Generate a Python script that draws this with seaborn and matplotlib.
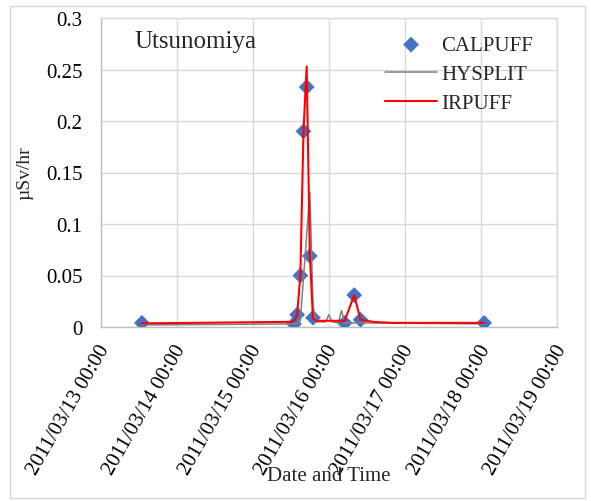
import matplotlib
matplotlib.use("Agg")
import matplotlib.pyplot as plt
import matplotlib.dates as mdates
import matplotlib.transforms as mtransforms
from matplotlib.patches import Rectangle
import pandas as pd
import seaborn as sns

# Hourly dose-rate estimates at Utsunomiya (µSv/hr)
calpuff_times = ["2011-03-13 13:00", "2011-03-15 13:00", "2011-03-15 14:00",
                 "2011-03-15 15:00", "2011-03-15 16:00", "2011-03-15 17:00",
                 "2011-03-15 18:00", "2011-03-15 19:00", "2011-03-16 05:00",
                 "2011-03-16 08:00", "2011-03-16 10:00", "2011-03-18 01:00"]
calpuff_vals = [0.004, 0.003, 0.012, 0.050, 0.190, 0.233,
                0.069, 0.009, 0.004, 0.031, 0.007, 0.004]

hysplit_times = ["2011-03-13 13:00", "2011-03-15 14:00", "2011-03-15 15:00",
                 "2011-03-15 18:00", "2011-03-15 19:00", "2011-03-15 20:00",
                 "2011-03-15 23:00", "2011-03-16 00:00", "2011-03-16 01:00",
                 "2011-03-16 03:00", "2011-03-16 04:00", "2011-03-16 05:00",
                 "2011-03-16 10:00", "2011-03-18 01:00"]
hysplit_vals = [0.002, 0.003, 0.006, 0.131, 0.020, 0.005,
                0.005, 0.012, 0.005, 0.004, 0.016, 0.004,
                0.004, 0.003]

irpuff_times = ["2011-03-13 13:00", "2011-03-15 12:00", "2011-03-15 13:00",
                "2011-03-15 14:00", "2011-03-15 15:00", "2011-03-15 16:00",
                "2011-03-15 17:00", "2011-03-15 18:00", "2011-03-15 19:00",
                "2011-03-15 20:00", "2011-03-16 04:00", "2011-03-16 05:00",
                "2011-03-16 08:00", "2011-03-16 10:00", "2011-03-16 14:00",
                "2011-03-16 20:00", "2011-03-18 01:00"]
irpuff_vals = [0.0035, 0.005, 0.006, 0.012, 0.050, 0.190,
               0.253, 0.070, 0.008, 0.006, 0.006, 0.006,
               0.031, 0.007, 0.005, 0.004, 0.004]

y_ticks = [0, 0.05, 0.1, 0.15, 0.2, 0.25, 0.3]
y_tick_labels = ["0", "0.05", "0.1", "0.15", "0.2", "0.25", "0.3"]
x_start, x_end = "2011-03-13 00:00", "2011-03-19 00:00"

calpuff = pd.DataFrame({"time": pd.to_datetime(calpuff_times), "dose": calpuff_vals})
hysplit = pd.DataFrame({"time": pd.to_datetime(hysplit_times), "dose": hysplit_vals})
irpuff = pd.DataFrame({"time": pd.to_datetime(irpuff_times), "dose": irpuff_vals})

sns.set_style("white")
plt.rcParams["font.family"] = ["Liberation Serif", "DejaVu Serif"]

fig = plt.figure(figsize=(5.91, 5.02), dpi=100)
ax = fig.add_axes([100.7 / 591, 1 - 328 / 502, 456.3 / 591, 309 / 502])

sns.scatterplot(data=calpuff, x="time", y="dose", marker="D", s=65,
                color="#4472C4", edgecolor="none", ax=ax, label="CALPUFF", zorder=3)
sns.lineplot(data=hysplit, x="time", y="dose", color="#808080", linewidth=1.1,
             ax=ax, label="HYSPLIT", zorder=4)
sns.lineplot(data=irpuff, x="time", y="dose", color="#FF0000", linewidth=1.5,
             ax=ax, label="IRPUFF", zorder=5)

ax.set_xlim(pd.Timestamp(x_start), pd.Timestamp(x_end))
ax.set_ylim(0, 0.3)
ax.xaxis.set_major_locator(mdates.DayLocator())
ax.xaxis.set_major_formatter(mdates.DateFormatter("%Y/%m/%d %H:%M"))
ax.set_yticks(y_ticks)
ax.set_yticklabels(y_tick_labels)

ax.grid(True, color="#D9D9D9", linewidth=1.0)
ax.set_axisbelow(True)
for side, sp in ax.spines.items():
    sp.set_visible(True)
    sp.set_color("#D9D9D9")
    sp.set_linewidth(1.0)
ax.spines["bottom"].set_color("#BFBFBF")
ax.spines["left"].set_color("#BFBFBF")

ax.tick_params(axis="both", length=0, labelsize=15, colors="black")
ax.tick_params(axis="y", pad=13)
ax.tick_params(axis="x", pad=0)

shift = mtransforms.ScaledTranslation(0.05, -0.19, fig.dpi_scale_trans)
for lbl in ax.get_xticklabels():
    lbl.set_rotation(60)
    lbl.set_ha("right")
    lbl.set_va("center")
    lbl.set_rotation_mode("anchor")
    lbl.set_transform(lbl.get_transform() + shift)

ax.set_xlabel("")
ax.set_ylabel("µSv/hr", fontsize=14, labelpad=9)
fig.text(328.5 / 591, 1 - 476.7 / 502, "Date and Time", fontsize=15,
         ha="center", va="center")

ax.text(0.075, 0.905, "Utsunomiya", transform=ax.transAxes, fontsize=18,
        ha="left", va="baseline")

handles, labels = ax.get_legend_handles_labels()
ax.legend(handles, labels, loc="upper left",
          bbox_to_anchor=(385 / 591, 1 - 36.5 / 502),
          bbox_transform=fig.transFigure, frameon=False, fontsize=15,
          handlelength=2.5, handletextpad=0.2, labelspacing=0.45,
          borderpad=0, borderaxespad=0)

fig.patches.append(Rectangle((10 / 591, 3 / 502), 575 / 591, 492 / 502,
                             transform=fig.transFigure, fill=False,
                             edgecolor="#D9D9D9", linewidth=1.0))

fig.savefig("out.png", dpi=100)
